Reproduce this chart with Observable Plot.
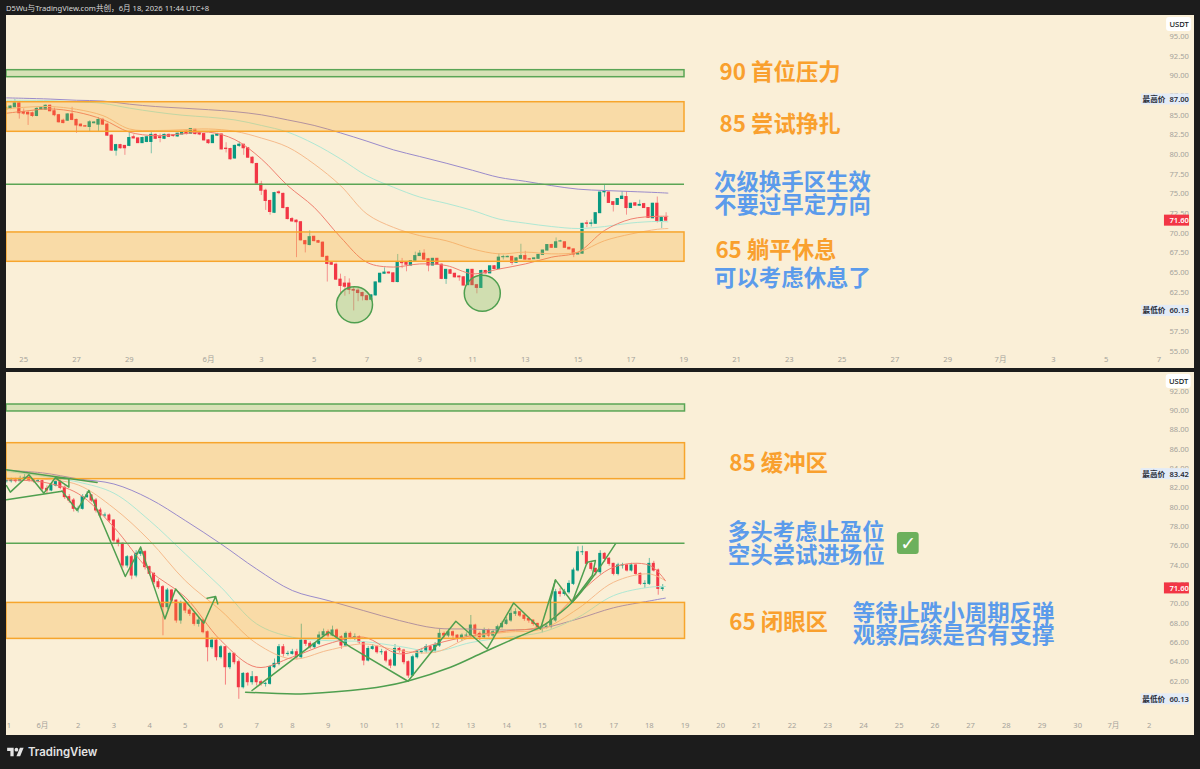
<!DOCTYPE html>
<html><head><meta charset="utf-8">
<script src="https://cdn.jsdelivr.net/npm/d3@7"></script>
<script src="https://cdn.jsdelivr.net/npm/@observablehq/plot@0.6"></script>
<style>
html,body{margin:0;padding:0;background:#1c1c1c;width:1200px;height:769px;overflow:hidden;font-family:"Noto Sans","Noto Sans CJK SC",sans-serif}
#hdr{position:absolute;left:6px;top:3px;font-size:7.6px;line-height:10px;color:#d8d8d8}
#p1,#p2{position:absolute;left:6px}
#p1{top:15px}#p2{top:372px}
#logo{position:absolute;left:7px;top:746px}
#ftr{position:absolute;left:28px;top:744px;color:#e4e4e4;font:600 11.4px/17px "Inter","Noto Sans",sans-serif}
svg{overflow:hidden}
</style></head><body>
<div id="hdr">D5Wu与TradingView.com共创，6月 18, 2026 11:44 UTC+8</div>
<div id="p1"></div><div id="p2"></div>
<svg id="logo" width="17" height="13" viewBox="0 0 36 28"><path d="M14 22H7V11H0V4h14v18zM28 22h-8l7.5-18h8L28 22z" fill="#e4e4e4"/><circle cx="20" cy="8" r="4" fill="#e4e4e4"/></svg>
<div id="ftr">TradingView</div>
<script>
// ---------- panel 1: 4h candles ----------
const p1Open=[85.7,85.8,86.0,86.5,85.4,85.3,85.25,84.9,85.7,85.7,
86.2,85.5,85,84.3,84.3,85.1,84.4,83.8,83.6,83.5,
83.98,83.8,84.4,83.8,82.4,80.5,81.2,81.1,81.1,82.2,
82.05,81.45,81.6,81.6,82.5,82.2,82,82.5,82.45,82.3,
82.55,82.9,82.65,83.15,82.7,82.6,81.8,81.45,82.4,82.55,
80.75,80.7,79.5,81.1,81.25,80.8,79.6,78.8,76.2,75.4,
74.1,72.6,75.2,75,73.2,71.8,71.6,71.4,69,68.5,
69.55,69,68.8,67,66.2,66,64.1,63.6,63.6,62.8,
62.7,62.4,62,61.55,62.1,63.75,64.85,65,64.9,63.8,
66.3,66.3,65.9,66.5,67.1,67.4,66.7,65.9,66.75,66,
64.2,65.3,64.85,64.5,64.4,63.4,65.35,63.4,63.05,65.2,
64.9,65.8,65.45,66.95,66.95,67,66.25,66.75,67.1,66.7,
66.7,66.75,67.25,67.8,68.5,68.15,68.95,68.85,68.15,67.95,
67.3,67.4,71.25,71.2,71.2,72.55,75.2,75.17,73.95,73.6,
74.35,74.6,73.2,73.8,73.5,73.7,73.2,71.9,73.75,71.5,
71.95];
const p1Close=[85.95,86.1,86.5,85.25,85.2,85.1,84.9,85.8,85.9,86.2,
85.5,85,84.1,84,85.1,84.4,83.7,83.6,83.55,84.1,
84.07,84.4,83.8,82.4,80.5,81.2,80.8,80.8,82.1,82.05,
81.45,82.1,82.2,82.5,82,82.1,82.5,82.25,82.35,82.65,
82.8,82.6,83.25,82.6,82.55,81.8,81.45,82.4,82.55,80.65,
80.7,79.4,81.1,81.25,80.8,79.6,78.9,76.3,75.4,74.1,
72.7,75.1,75.1,73.2,71.8,71.5,71.4,69.1,68.6,69.5,
69,68.8,67,66.1,66,64.1,63.3,63.2,62.8,62.7,
62.4,62,61.5,62.1,63.75,64.85,65,64.9,63.8,66.3,
66.2,66,66.45,67.1,67.4,66.65,65.9,66.75,66,64.2,
65.35,64.85,64.4,64.4,63.35,65.35,63.4,63.05,65.2,64.9,
65.8,65.45,66.9,66.97,67,66.25,66.8,67.1,66.65,66.65,
66.8,67.25,67.8,68.5,68.15,68.85,68.97,68.15,67.95,67.3,
67.45,71.2,71.2,71.25,72.55,75.17,75.25,73.85,73.6,74.35,
74.65,73.2,73.75,73.5,73.6,73.2,71.95,73.75,71.5,71.95,
71.6];
const p1High=[86,86.2,87,86.7,85.8,85.5,85.4,86,86,86.3,
86.3,85.9,85.1,84.5,85.2,86,84.5,83.9,83.7,84.3,
84.2,84.7,84.6,84,82.5,81.3,81.3,81.1,82.8,82.5,
82.1,82.2,82.3,83,82.6,82.6,82.6,82.6,82.5,82.7,
82.9,83,83.3,83.2,82.8,82.7,81.9,82.5,82.7,82.6,
81.5,80.8,81.2,81.6,81.3,80.9,79.7,78.9,76.6,75.6,
74.2,75.2,75.4,75.1,73.3,72,71.7,71.5,69.1,70.3,
69.6,69.1,68.9,67.1,66.3,66.2,64.8,64.5,64.2,63.2,
63,62.5,62.1,62.2,63.8,64.9,65.6,65.1,65,67.3,
66.8,66.4,66.5,67.6,67.8,67.9,66.8,66.8,66.8,66.1,
65.4,65.4,64.9,64.6,64.5,65.4,65.4,63.5,65.3,65.3,
65.85,65.9,67.4,67.2,67.1,67.05,66.9,68.6,67.7,66.8,
66.9,67.3,67.85,68.55,68.6,69.4,69.1,68.9,68.2,68,
67.5,71.25,71.6,71.7,72.6,75.2,76.2,75.3,74,74.4,
75.3,75.3,73.8,73.9,74.2,73.8,73.25,73.8,74.6,72,
72.6];
const p1Low=[85.65,85.7,85.95,84.5,85,83.7,84.7,84.8,85.65,85.6,
85.45,84.8,84,83.9,84.2,84.3,82.7,83.5,83.5,82.9,
83.9,82.9,83.7,82.3,80.4,79.8,80.7,79.9,81,82,
81.4,81.4,81.5,80.1,81.9,81.5,81.9,82.2,82.2,82.2,
82.5,82.5,82.6,82.5,82.4,81.7,81.3,81.4,82.3,80.6,
80.2,79.3,79.4,80.9,79.9,79.5,78.8,76.2,74.8,72.9,
72.3,72.5,74.9,73.1,71.7,71.4,66.9,69,67.5,68.4,
68.9,68.7,66.9,63.8,65.9,64,62.2,62,62.2,60.13,
61.3,61.4,61.4,61.5,62,63.7,64.8,64.8,63.7,63.7,
65.5,65.1,65.8,66.45,67.05,66.6,65.1,65.85,65.95,64.1,
63.5,64.8,64.3,63.9,63.3,63.35,63.35,62.3,63,64.8,
64.85,65.4,65.4,66.6,66.9,65.9,66.2,66.7,66.6,66.6,
66.65,66.7,67.2,67.75,68.1,68.1,68.9,68.1,67.9,66.9,
67.25,67.35,70.7,70.8,71.15,72.5,74.6,73.8,72.7,73.55,
74.3,72.3,73.15,73.45,73.45,73.15,71.9,71.85,71.3,70.6,
71.5];
const maDays=[-7.65,-7,-6,-5,-4,-3,-2,-1,0,1,2,3,4,5,6,7,8,9,10,11,12,13,14,15,16,17,17.4];
const p1Purple=[87.2,87.15,87.05,86.9,86.8,86.4,86.1,85.9,85.7,85.45,85.05,84.4,83.7,82.75,81.7,80.6,79.75,78.9,78,77.1,76.6,76.05,75.6,75.43,75.3,75.17,75.1];
const p1Teal=[86.9,86.9,86.85,86.7,86.5,85.9,85.4,85,84.75,84.4,83.7,82.85,81.36,79.45,77.3,75.85,74.6,73.8,72.9,71.8,71.28,70.85,70.6,70.85,71.3,71.5,71.45];
const p1Orange=[85.8,86,86.1,85.75,84.95,83.25,83.05,83.15,83.25,82.95,82.1,80.95,78.8,76.05,72.45,70.75,69.7,69.05,68,67.38,67.6,67.38,67.6,69.05,69.9,70.5,70.6];
const p1Red=[85.25,85.5,85.8,85.4,84.45,82.85,82.4,82.63,82.85,81.9,79.45,76.05,73.3,69.5,66.3,65.7,66.1,65.9,64.85,65.45,66.1,66.96,67.6,70.35,71.8,72.15,72.15];
const p1TickDays=[-7,-5,-3,0,2,4,6,8,10,12,14,16,18,20,22,24,26,28,30,32,34,36];
const p1TickLabels=["25","27","29","6月","3","5","7","9","11","13","15","17","19","21","23","25","27","29","7月","3","5","7"];
const p1PriceTicks=[55,57.5,60,62.5,65,67.5,70,72.5,75,77.5,80,82.5,85,87.5,90,92.5,95];
const p1CircleDays=[5.53,10.37];
const p1CirclePrices=[60.9,62.38];

// ---------- panel 2: shorter candles ----------
const p2Close=[82.69,82.76,82.69,82.93,83.04,82.83,82.69,82.69,81.9,81.73,
82.24,82.59,82,81.04,80.69,79.83,79.83,81.04,81.21,80.69,
79.66,79.14,79.14,78.62,76.55,76.21,73.97,74.83,72.93,75.18,
75.35,73.8,73.11,72.24,71.73,69.66,71.38,70.34,68.28,70,
69.31,68.97,67.93,68.28,67.07,65.52,66.2,64.49,65.52,63.45,
64.83,63.97,61.38,62.76,61.9,62.42,61.9,61.73,61.73,63.45,
63.8,65.52,64.83,64.83,65,64.49,66.2,65.87,65.52,65.87,
66.73,67.07,66.73,67.25,66.55,65.69,66.9,66.55,66.55,66.03,
64.14,65.34,65.52,65,65,64.14,63.62,65.34,65.17,63.97,
62.59,64.48,65,65.1,65.52,65.17,65.69,66.9,66.72,67.07,
66.72,66.38,66.72,66.72,67.76,66.9,66.55,67.24,66.72,67.07,
67.59,67.93,68.28,68.97,69.14,68.79,68.45,68.28,67.93,67.59,
67.59,67.65,68.28,71.2,71.03,71.2,72.07,73.45,75.34,75.34,
74.14,73.62,73.28,75.17,74.66,74.14,73.1,73.97,73.97,73.45,
73.97,73.1,72.07,72.07,74.14,73.45,71.55,71.6];
const p2High=[83,83,83,83.2,83.42,83.2,82.95,82.95,82.8,82.2,
82.5,83.1,82.8,82.2,81.3,80.9,80.1,81.3,81.6,81.3,
80.9,79.9,79.4,79.3,78.7,76.8,76.3,75,75,75.5,
75.9,75.5,73.9,73.2,72.5,71.9,71.6,71.5,70.4,70.3,
70.2,69.5,69.1,68.6,68.4,67.2,66.5,66.3,65.7,65.6,
65,64.9,64.2,62.9,62.9,63,62.5,62.1,61.9,63.6,
64.3,65.8,65.8,65.1,65.3,65.3,67.9,66.4,66.1,66,
67.1,67.4,67.3,67.7,67.4,66.7,67.1,67.1,66.9,66.7,
66.1,65.6,65.8,65.7,65.3,65.2,64.3,65.8,65.5,65.3,
64.1,64.7,65.2,65.4,65.8,65.7,66,67.4,67.1,67.4,
67.2,66.8,66.9,67,68.8,67.9,67.1,67.5,67.4,67.3,
67.8,68.2,68.6,69.5,69.5,69.2,68.9,68.6,68.3,68,
67.8,67.9,68.5,71.5,71.6,71.5,72.4,73.7,75.9,75.97,
75.4,74.3,73.7,75.5,75.3,74.8,74.2,74.2,74.2,74.1,
74.2,74.1,73.2,72.4,74.7,74.4,73.6,72];
const p2Low=[82.5,82.5,82.5,82.6,82.9,82.6,82.5,82.5,81.7,81.4,
81.6,82.1,81.8,80.8,80.4,79.5,79.4,79.7,80.9,80.5,
79.4,78.9,78.9,78.3,76.3,75.9,73.7,73.7,72.5,72.7,
74.9,73.5,72.9,72,71.5,66.7,69.4,70,68,67.9,
69,68.7,67.7,67.6,66.9,64,65.3,64.1,64.3,61.6,
63.2,63.7,60.13,61.2,61.5,61.6,61.5,61.5,61.4,61.6,
63.3,63.6,64.5,64.6,64.7,64.2,64.3,65.6,65.3,65.4,
65.7,66.7,66.5,66.6,66.3,65.3,65.5,66.3,66.2,65.8,
63.6,64,65.2,64.8,64.7,63.9,63.3,63.5,64.9,63.7,
62.3,62.5,64.3,64.8,64.9,64.9,64.9,65.5,66.4,66.5,
66.4,66,66.1,66.5,66.4,66.6,66.2,66.4,66.5,66.5,
66.9,67.4,67.8,68.1,68.7,68.6,68.2,68,67.7,67.3,
67,67.4,67.4,68.1,70.7,70.8,71,71.9,73.3,75,
74,73.4,72.9,73,74.3,73.9,72.9,72.9,73.6,73.3,
73.3,72.9,71.9,71.6,71.9,73.3,70.9,71.3];
const p2MaDays=[-1,0,1,2,3,4,5,6,7,8,9,10,11,12,13,14,15,16,17,17.45];
const p2Purple=[83.8,83.55,82.93,82.4,80.87,78.62,76.2,73.6,71.38,70.35,69.3,68.28,67.5,67.4,67.3,67.5,68.45,69.6,70.3,70.6];
const p2Teal=[83.7,83.2,82.6,81.45,78.62,75.17,71.73,67.93,66.55,66.2,66.1,65.6,65.1,66,66.55,67.07,68.6,70.86,71.72,71.8];
const p2Orange=[83,82.9,82.3,79.9,76.55,72.4,69.3,65.9,64.3,65.2,65.86,65.17,65,66.55,67.07,67.4,69.5,72.24,73.1,72.4];
const p2Red=[82.8,82.6,81.4,77.93,73.45,70.7,66.2,63.45,64.5,65.87,66.55,64.83,65.86,66.7,67.2,67.75,71,73.8,74,72.4];
const p2TickDays=[-0.94,0,1,2,3,4,5,6,7,8,9,10,11,12,13,14,15,16,17,18,19,20,21,22,23,24,25,26,27,28,29,30,31];
const p2TickLabels=["1","6月","2","3","4","5","6","7","8","9","10","11","12","13","14","15","16","17","18","19","20","21","22","23","24","25","26","27","28","29","30","7月","2"];
const p2PriceTicks=[62,64,66,68,70,72,74,76,78,80,82,84,86,88,90,92];
// hand-drawn green lines, [day, price]
const p2Wedge=[[[-1.01,83.87],[1.53,82.56]],[[-1.01,80.76],[0.55,81.66]]];
const p2ZigA=[[-1.01,82.24],[-0.9,81.56],[-0.38,83.35],[0.04,81.45],[0.36,83.04],[0.74,82.07],[0.74,82.93],[0.36,83.04]];
const p2ZigB=[[0.55,81.66],[0.97,79.66],[1.30,81.73],[2.32,72.83],[2.75,75.87],[3.43,68.45],[3.73,71.55],[4.52,68.0],[4.85,70.76],[4.61,70.59],[4.85,70.76],[4.91,70.0]];
const p2Arc=[[5.69,60.87],[7.23,60.69],[8.63,61.04],[9.56,61.48],[10.22,62.0],[11.43,63.45],[12.36,65.0],[13.3,66.55],[13.95,67.59],[14.23,68.28],[14.84,70.17],[15.45,72.93],[16.05,76.2]];
const p2ZigC=[[5.87,61.04],[8.02,67.07],[8.63,65.52],[10.24,62.0],[11.58,68.2],[12.46,65.34],[13.2,70.1],[13.95,67.41],[14.37,72.48],[14.84,70.17],[15.26,74.31],[15.49,74.48],[15.4,72.93],[14.84,70.17]];
const p2ZigD=[[14.23,68.1],[14.23,70.35],[14.37,72.48]];

const BG="#faefd7",GREEN="#089981",RED="#f23645",ORANGE="#f9a02e",BLUE="#5b9beb",LINE="#5aa555";
const AXIS="#a5a39b";
const FONT='"Noto Sans","Noto Sans CJK SC",sans-serif';

function candles(o,h,l,c,last,step){
  const n=c.length;
  return c.map((v,i)=>({x:last-(n-1-i)*step,o:o[i],h:h[i],l:l[i],c:v,col:v>=o[i]?GREEN:RED}));
}
function series(days,vals){return days.map((d,i)=>[d,vals[i]]);}

function panel(cfg){
  const ma=(vals,stroke)=>Plot.line(series(cfg.maDays,vals),{x:"0",y:"1",stroke,strokeWidth:1,curve:"catmull-rom"});
  const zone=(y1,y2,fill,stroke)=>[
    Plot.rect([0],{x1:cfg.x0,x2:cfg.zoneEnd,y1,y2,fill,fillOpacity:.27,stroke,strokeWidth:1.5})
  ];
  const tag=(price,label,val)=>[
    Plot.rect([0],{x1:cfg.tagL,x2:cfg.tagR,y1:price-cfg.tagH,y2:price+cfg.tagH,fill:"#e3ebf6"}),
    Plot.text([label],{x:cfg.tagTextL,y:price,text:d=>d,textAnchor:"start",fill:"#2a2e39",fontSize:7.6,fontWeight:600}),
    Plot.text([val],{x:cfg.valX,y:price,text:d=>d,textAnchor:"start",fill:"#2a2e39",fontSize:7.6,fontWeight:600})
  ];
  return Plot.plot({
    width:1188,height:cfg.height,marginTop:0,marginLeft:0,marginRight:34,marginBottom:cfg.marginBottom,
    style:{background:BG,fontFamily:FONT,fontSize:"7.6px",overflow:"hidden"},
    x:{domain:cfg.xDomain},y:{domain:cfg.yDomain},
    marks:[
      Plot.axisX({anchor:"bottom",ticks:cfg.tickDays,tickFormat:d=>cfg.tickLabels[cfg.tickDays.indexOf(d)],tickSize:0,tickPadding:cfg.xPad,label:null,fill:AXIS}),
      Plot.axisY({anchor:"right",ticks:cfg.priceTicks,tickFormat:d3.format(".2f"),tickSize:0,tickPadding:9,label:null,fill:AXIS}),
      Plot.ruleX(cfg.bars,{x:"x",y1:"l",y2:"h",stroke:"col",strokeWidth:1,strokeOpacity:cfg.wickOp}),
      Plot.rect(cfg.bars,{x1:d=>d.x-cfg.hw,x2:d=>d.x+cfg.hw,y1:"o",y2:"c",fill:"col",insetTop:-.5,insetBottom:-.5}),
      ma(cfg.purple,"#9a8bcb"),ma(cfg.teal,"#aee8d4"),ma(cfg.orange,"#f6bb8c"),ma(cfg.red,"#f08070"),
      ...cfg.extra(zone),
      Plot.rect([0],{x1:cfg.usdt[0],x2:cfg.usdt[1],y1:cfg.usdt[2],y2:cfg.usdt[3],fill:"#fff",rx:3}),
      Plot.text(["USDT"],{x:(cfg.usdt[0]+cfg.usdt[1])/2,y:(cfg.usdt[2]+cfg.usdt[3])/2,text:d=>d,fill:"#131722",fontSize:7.6,fontWeight:500}),
      ...tag(cfg.hi,"最高价",cfg.hi.toFixed(2)),
      ...tag(cfg.lo,"最低价",cfg.lo.toFixed(2)),
      Plot.rect([0],{x1:cfg.lastL,x2:cfg.tagR,y1:cfg.last-cfg.tagH,y2:cfg.last+cfg.tagH,fill:RED}),
      Plot.text([cfg.last.toFixed(2)],{x:cfg.valX,y:cfg.last,text:d=>d,textAnchor:"start",fill:"#fff",fontSize:7.6,fontWeight:600})
    ]
  });
}
const note=(t,x,y,fill)=>Plot.text([t],{x,y,text:d=>d,textAnchor:"start",fill,fontSize:22.4,fontWeight:700,fontFamily:'"Noto Sans CJK SC","Noto Sans",sans-serif'});

document.getElementById("p1").append(panel({
  height:353,marginBottom:14,xPad:2,hw:.062,wickOp:.5,
  xDomain:[-7.652,36.06],yDomain:[54.59,97.67],x0:-7.652,zoneEnd:18.03,
  tickDays:p1TickDays,tickLabels:p1TickLabels,priceTicks:p1PriceTicks,
  bars:candles(p1Open,p1High,p1Low,p1Close,17.333,1/6),
  maDays,purple:p1Purple,teal:p1Teal,orange:p1Orange,red:p1Red,
  usdt:[36.29,37.24,95.64,97.41],hi:87,lo:60.13,last:71.6,
  tagL:35.34,tagR:37.16,tagTextL:35.38,valX:36.4,lastL:36.21,tagH:.7,
  extra:zone=>[
    ...zone(89.83,90.72,"#79bb5c",LINE),
    ...zone(82.89,86.65,"#f9a825","#f7a52c"),
    ...zone(66.37,70.1,"#f9a825","#f7a52c"),
    Plot.ruleY([76.23],{x1:-7.652,x2:18.03,stroke:LINE,strokeWidth:1.5}),
    Plot.dot(p1CircleDays.map((d,i)=>[d,p1CirclePrices[i]]),{x:"0",y:"1",r:18,fill:"#79bb5c",fillOpacity:.32,stroke:"#4f9f4f",strokeWidth:1.5}),
    note("90 首位压力",19.36,90.43,ORANGE),
    note("85 尝试挣扎",19.36,83.82,ORANGE),
    note("次级换手区生效",19.15,76.45,BLUE),
    note("不要过早定方向",19.15,73.53,BLUE),
    note("65 躺平休息",19.2,67.8,ORANGE),
    note("可以考虑休息了",19.15,64.25,BLUE)
  ]
}));
const p2Greens=[...p2Wedge,p2ZigA,p2ZigB,p2ZigC,p2ZigD];
document.getElementById("p2").append(panel({
  height:363,marginBottom:15,xPad:2.5,hw:.042,wickOp:.6,
  xDomain:[-1.008,31.32],yDomain:[57.94,93.93],x0:-1.008,zoneEnd:18.0,
  tickDays:p2TickDays,tickLabels:p2TickLabels,priceTicks:p2PriceTicks,
  bars:candles(p2Close.map((v,i)=>i?p2Close[i-1]:v),p2High,p2Low,p2Close,17.375,1/8),
  maDays:p2MaDays,purple:p2Purple,teal:p2Teal,orange:p2Orange,red:p2Red,
  usdt:[31.48,32.18,92.27,93.72],hi:83.42,lo:60.13,last:71.6,
  tagL:30.78,tagR:32.13,tagTextL:30.81,valX:31.57,lastL:31.43,tagH:.57,
  extra:zone=>[
    ...zone(89.9,90.62,"#79bb5c",LINE),
    ...zone(82.9,86.62,"#f9a825","#f7a52c"),
    ...zone(66.38,70.1,"#f9a825","#f7a52c"),
    Plot.ruleY([76.28],{x1:-1.008,x2:18.0,stroke:LINE,strokeWidth:1.5}),
    ...p2Greens.map(pts=>Plot.line(pts,{x:"0",y:"1",stroke:"#4f9f4f",strokeWidth:1.5})),
    Plot.line(p2Arc,{x:"0",y:"1",stroke:"#4f9f4f",strokeWidth:1.5,curve:"catmull-rom"}),
    note("85 缓冲区",19.24,84.52,ORANGE),
    note("多头考虑止盈位",19.2,77.38,BLUE),
    note("空头尝试进场位",19.2,75.0,BLUE),
    note("65 闭眼区",19.24,68.08,ORANGE),
    note("等待止跌小周期反弹",22.7,69.0,BLUE),
    note("观察后续是否有支撑",22.7,66.73,BLUE),
    Plot.rect([0],{x1:23.95,x2:24.56,y1:75.11,y2:77.38,fill:"#6cb05c",rx:3}),
    Plot.text(["✓"],{x:24.255,y:76.25,text:d=>d,fill:"#fff",fontSize:19,fontWeight:700,fontFamily:"DejaVu Sans"})
  ]
}));
</script>
</body></html>
